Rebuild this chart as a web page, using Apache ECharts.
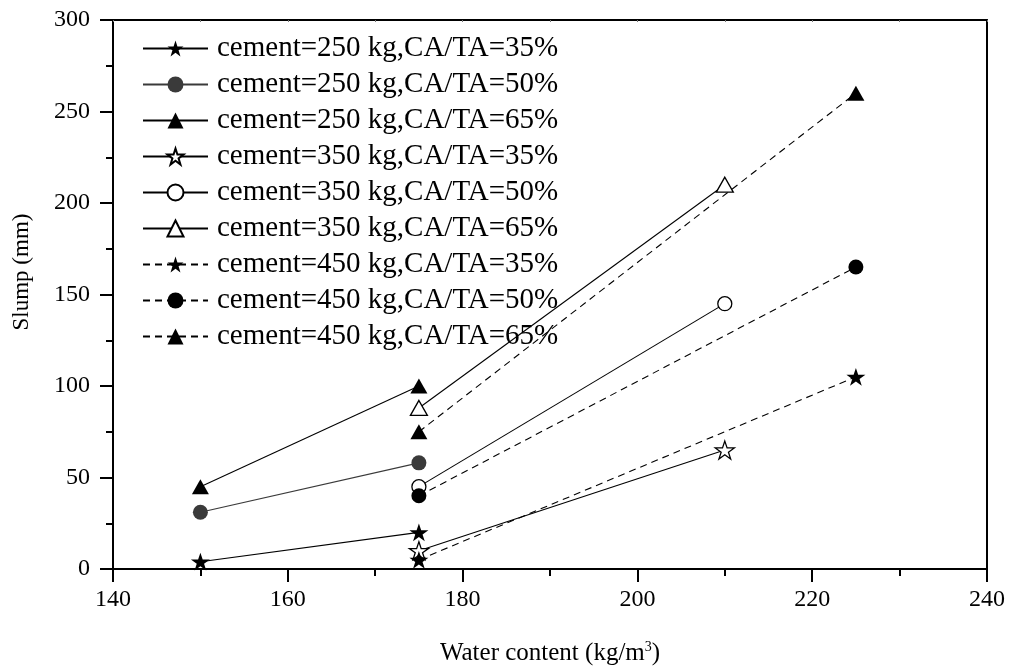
<!DOCTYPE html>
<html>
<head>
<meta charset="utf-8">
<script src="https://cdn.jsdelivr.net/npm/echarts@6/dist/echarts.min.js"></script>
<style>
  html, body { margin: 0; padding: 0; background: #fff; }
  #chart { width: 1009px; height: 670px; }
</style>
</head>
<body>
<div id="chart"></div>
<script>
// Slump of concrete vs water content for three cement dosages and three CA/TA ratios
const seriesNames = [
  'cement=250 kg,CA/TA=35%',
  'cement=250 kg,CA/TA=50%',
  'cement=250 kg,CA/TA=65%',
  'cement=350 kg,CA/TA=35%',
  'cement=350 kg,CA/TA=50%',
  'cement=350 kg,CA/TA=65%',
  'cement=450 kg,CA/TA=35%',
  'cement=450 kg,CA/TA=50%',
  'cement=450 kg,CA/TA=65%'
];

// water content (kg/m3) for each cement dosage
const water250 = [150, 175];
const water350 = [175, 210];
const water450 = [175, 225];

// slump (mm)
const slump250_35 = [4, 20];
const slump250_50 = [31, 58];
const slump250_65 = [45, 100];
const slump350_35 = [10, 65];
const slump350_50 = [45, 145];
const slump350_65 = [88, 210];
const slump450_35 = [5, 105];
const slump450_50 = [40, 165];
const slump450_65 = [75, 260];

const xTicks = { min: 140, max: 240, step: 20 };
const yTicks = { min: 0, max: 300, step: 50 };

const FONT = 'Liberation Serif, Times New Roman, serif';
const STAR = 'path://M50,0 L61.8,35.1 L98.9,35.1 L68.8,56.7 L80.2,91.9 L50,70 L19.8,91.9 L31.2,56.7 L1.1,35.1 L38.2,35.1 Z';

const zip = (xs, ys) => xs.map((x, i) => [x, ys[i]]);

// marker / line look for each series
const looks = [
  { x: water250, y: slump250_35, sym: STAR, size: 19, fill: '#000', open: false, dash: 'solid', line: '#000' },
  { x: water250, y: slump250_50, sym: 'circle', size: 15, fill: '#3a3a3a', open: false, dash: 'solid', line: '#3a3a3a' },
  { x: water250, y: slump250_65, sym: 'triangle', size: [17, 15], fill: '#000', open: false, dash: 'solid', line: '#000' },
  { x: water350, y: slump350_35, sym: STAR, size: 19, fill: '#fff', open: true, dash: 'solid', line: '#000' },
  { x: water350, y: slump350_50, sym: 'circle', size: 14, fill: '#fff', open: true, dash: 'solid', line: '#000' },
  { x: water350, y: slump350_65, sym: 'triangle', size: [17, 15], fill: '#fff', open: true, dash: 'solid', line: '#000' },
  { x: water450, y: slump450_35, sym: STAR, size: 19, fill: '#000', open: false, dash: [7, 5], line: '#000' },
  { x: water450, y: slump450_50, sym: 'circle', size: 15, fill: '#000', open: false, dash: [7, 5], line: '#000' },
  { x: water450, y: slump450_65, sym: 'triangle', size: [17, 15], fill: '#000', open: false, dash: [7, 5], line: '#000' }
];

const series = looks.map((s, i) => ({
  name: seriesNames[i],
  type: 'line',
  xAxisIndex: 0,
  yAxisIndex: 0,
  data: zip(s.x, s.y),
  symbol: s.sym,
  symbolSize: s.size,
  symbolKeepAspect: true,
  showAllSymbol: true,
  lineStyle: { color: s.line, width: 1.1, type: s.dash },
  itemStyle: s.open
    ? { color: '#fff', borderColor: '#000', borderWidth: 1.3, opacity: 1 }
    : { color: s.fill, borderWidth: 0, opacity: 1 },
  emphasis: { disabled: true },
  z: 3
}));

const axisLine = { show: true, onZero: false, lineStyle: { color: '#000', width: 2 } };
const tickLabel = { fontFamily: FONT, fontSize: 24, color: '#000' };

const option = {
  animation: false,
  backgroundColor: '#fff',
  grid: { left: 113, right: 22, top: 20, bottom: 101, containLabel: false },
  xAxis: [
    {
      type: 'value', position: 'bottom',
      min: xTicks.min, max: xTicks.max, interval: xTicks.step,
      axisLine: axisLine,
      axisTick: { show: true, inside: false, length: 13, lineStyle: { color: '#000', width: 2 } },
      minorTick: { show: true, splitNumber: 2, length: 7, lineStyle: { color: '#000', width: 2 } },
      axisLabel: Object.assign({ margin: 19 }, tickLabel),
      splitLine: { show: false }, minorSplitLine: { show: false }
    },
    {
      type: 'value', position: 'top',
      min: xTicks.min, max: xTicks.max, interval: 10,
      axisLine: axisLine,
      axisTick: { show: true, inside: true, length: 2, lineStyle: { color: '#777', width: 1 } },
      axisLabel: { show: false },
      splitLine: { show: false }
    }
  ],
  yAxis: [
    {
      type: 'value', position: 'left',
      min: yTicks.min, max: yTicks.max, interval: yTicks.step,
      axisLine: axisLine,
      axisTick: { show: true, inside: false, length: 13, lineStyle: { color: '#000', width: 2 } },
      minorTick: { show: true, splitNumber: 2, length: 7, lineStyle: { color: '#000', width: 2 } },
      axisLabel: Object.assign({ margin: 23 }, tickLabel),
      splitLine: { show: false }, minorSplitLine: { show: false }
    },
    {
      type: 'value', position: 'right',
      min: yTicks.min, max: yTicks.max, interval: yTicks.step,
      axisLine: axisLine,
      axisTick: { show: false },
      axisLabel: { show: false },
      splitLine: { show: false }
    }
  ],
  legend: {
    orient: 'vertical',
    left: 142, top: 34,
    padding: 0,
    itemWidth: 65, itemHeight: 20,
    itemGap: 7,
    selectedMode: false,
    data: seriesNames,
    textStyle: { fontFamily: FONT, fontSize: 29, color: '#000', padding: [0, 0, 0, 4] }
  },
  graphic: [
    {
      type: 'text',
      x: 550, y: 653,
      style: {
        text: '{a|Water content (kg/m}{s|3}{a|)}',
        align: 'center', verticalAlign: 'middle',
        rich: {
          a: { fontFamily: FONT, fontSize: 25, fill: '#000' },
          s: { fontFamily: FONT, fontSize: 14, fill: '#000', verticalAlign: 'top', padding: [0, 0, 10, 0] }
        }
      }
    },
    {
      type: 'text',
      x: 22, y: 272,
      rotation: Math.PI / 2,
      style: {
        text: 'Slump (mm)',
        fontFamily: FONT, fontSize: 23, fill: '#000',
        align: 'center', verticalAlign: 'middle'
      }
    }
  ],
  series: series
};

const chart = echarts.init(document.getElementById('chart'), null, { renderer: 'canvas' });
chart.setOption(option);
</script>
</body>
</html>
